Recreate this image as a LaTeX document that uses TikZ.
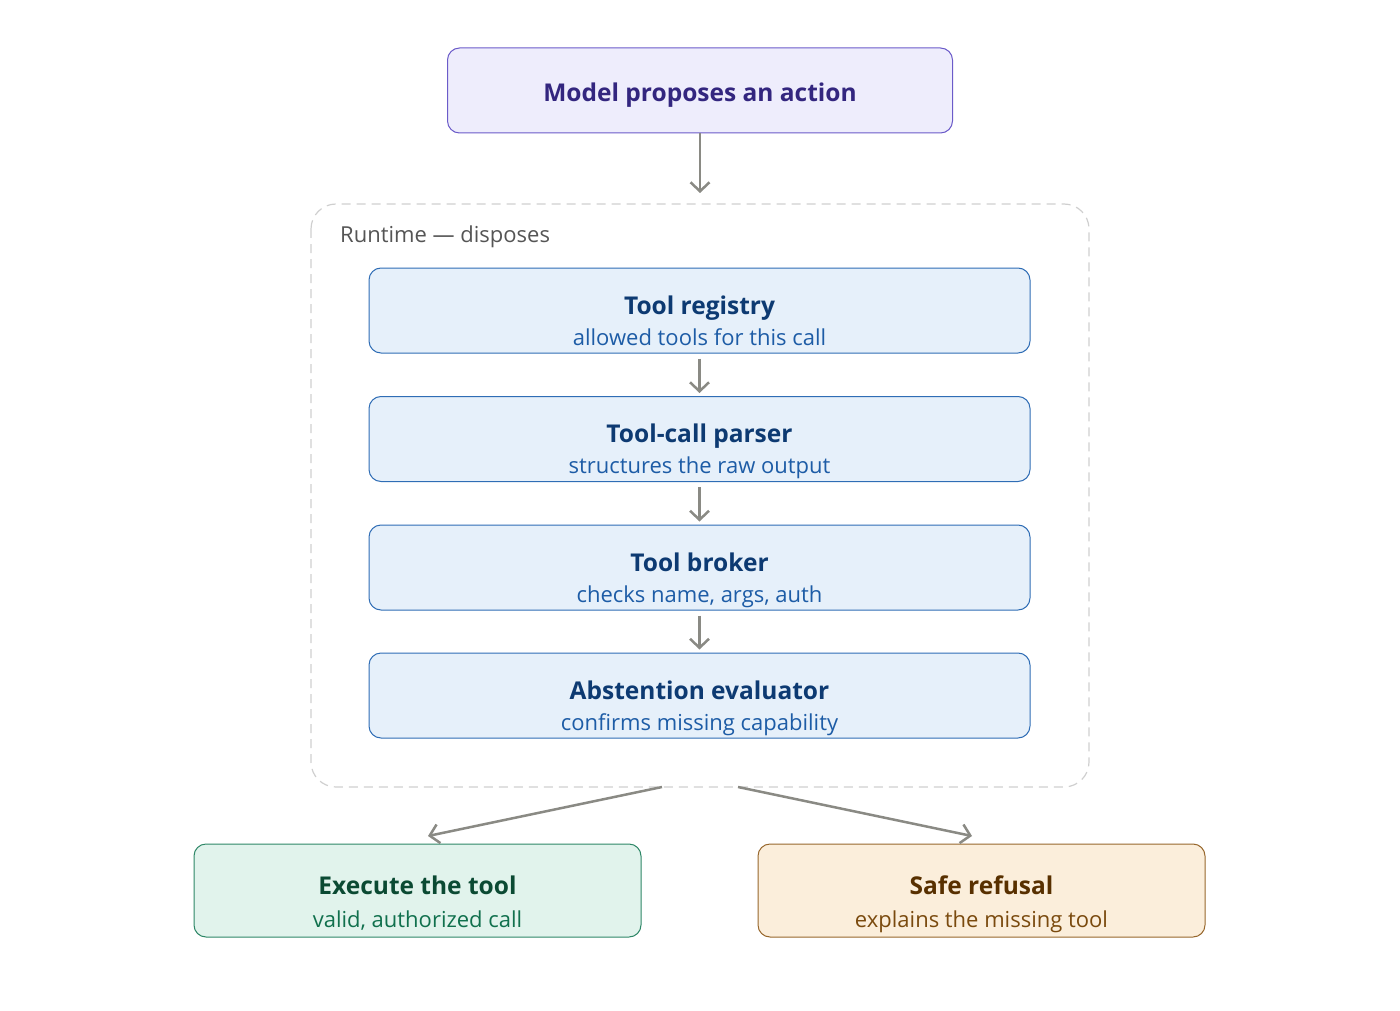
\documentclass[tikz,border=0pt]{standalone}
\usepackage{fontspec}
\setmainfont{Open Sans}
\usetikzlibrary{arrows.meta}
\definecolor{arrowgray}{HTML}{8A8A84}
\definecolor{pfill}{HTML}{EEEDFC}
\definecolor{pdraw}{HTML}{6B5BC9}
\definecolor{ptext}{HTML}{33267F}
\definecolor{bfill}{HTML}{E6F0FA}
\definecolor{bdraw}{HTML}{2F6DB5}
\definecolor{btitle}{HTML}{0D3A72}
\definecolor{bsub}{HTML}{1D5CA6}
\definecolor{gfill}{HTML}{E1F3EC}
\definecolor{gdraw}{HTML}{2E8767}
\definecolor{gtitle}{HTML}{0B4A33}
\definecolor{gsub}{HTML}{10704D}
\definecolor{ofill}{HTML}{FBEEDB}
\definecolor{odraw}{HTML}{97672C}
\definecolor{otitle}{HTML}{583000}
\definecolor{osub}{HTML}{7A4A0E}
\definecolor{dashgray}{HTML}{CFCFCF}
\definecolor{labgray}{HTML}{555555}
\tikzset{
  boxbase/.style={rectangle, rounded corners=12pt, line width=1pt, inner sep=0pt},
  stagebox/.style={boxbase, fill=bfill, draw=bdraw, minimum width=661pt, minimum height=85pt},
  outbox/.style={boxbase, minimum width=447pt, minimum height=93pt},
  ttl/.style={anchor=base, font=\fontsize{24.5}{29}\selectfont\bfseries, inner sep=0pt},
  sub/.style={anchor=base, font=\fontsize{22}{26}\selectfont, inner sep=0pt},
  flow/.style={draw=arrowgray, line width=2.5pt, -{Straight Barb[length=9pt,width=19pt,line width=2.5pt]}},
}
\begin{document}
\begin{tikzpicture}[x=1pt,y=-1pt]
\useasboundingbox (0,0) rectangle (1400,1011);
% container
\draw[dashgray, line width=1.2pt, dash pattern=on 9pt off 6pt, rounded corners=25pt] (311,204) rectangle (1089,787);
\coordinate (cbl) at (662,787);
\coordinate (cbr) at (738,787);
\coordinate (ctop) at (700,193);
\coordinate (exein) at (428,836);
\coordinate (refin) at (972,836);
\node[anchor=base west, inner sep=0pt, text=labgray, font=\fontsize{22}{26}\selectfont] (rt) at (340,243) {Runtime — disposes};
% top
\node[boxbase, fill=pfill, draw=pdraw, minimum width=505pt, minimum height=85pt] (model) at (700,90.5) {};
\node[ttl, text=ptext] (modelt) at (700,102) {Model proposes an action};
% stages
\node[stagebox] (reg) at (699.5,310.5) {};
\node[ttl, text=btitle] (regt) at (699.5,314) {Tool registry};
\node[sub, text=bsub] (regs) at (699.5,345) {allowed tools for this call};
\node[stagebox] (par) at (699.5,439) {};
\node[ttl, text=btitle] (part) at (699.5,442.5) {Tool-call parser};
\node[sub, text=bsub] (pars) at (699.5,473.5) {structures the raw output};
\node[stagebox] (bro) at (699.5,567.5) {};
\node[ttl, text=btitle] (brot) at (699.5,571) {Tool broker};
\node[sub, text=bsub] (bros) at (699.5,602) {checks name, args, auth};
\node[stagebox] (abs) at (699.5,695.5) {};
\node[ttl, text=btitle] (abst) at (699.5,699) {Abstention evaluator};
\node[sub, text=bsub] (abss) at (699.5,730) {confirms missing capability};
% outcomes
\node[outbox, fill=gfill, draw=gdraw] (exe) at (417.5,890.5) {};
\node[ttl, text=gtitle] (exet) at (417.5,894) {Execute the tool};
\node[sub, text=gsub] (exes) at (417.5,927) {valid, authorized call};
\node[outbox, fill=ofill, draw=odraw] (ref) at (981.5,890.5) {};
\node[ttl, text=otitle] (reft) at (981.5,894) {Safe refusal};
\node[sub, text=osub] (refs) at (981.5,927) {explains the missing tool};
% arrows
\draw[flow] (model.south) -- (ctop);
\draw[flow] ([yshift=-5pt]reg.south) -- ([yshift=3pt]par.north);
\draw[flow] ([yshift=-5pt]par.south) -- ([yshift=3pt]bro.north);
\draw[flow] ([yshift=-5pt]bro.south) -- ([yshift=3pt]abs.north);
\draw[flow] (cbl) -- (exein);
\draw[flow] (cbr) -- (refin);
\end{tikzpicture}
\end{document}
